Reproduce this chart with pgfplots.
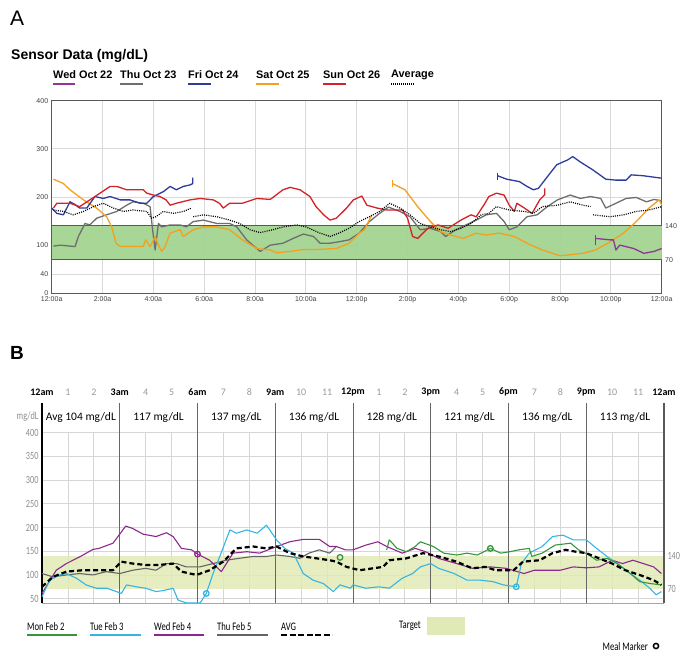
\documentclass[border=0pt]{standalone}
\usepackage{pgfplots}
\pgfplotsset{compat=1.18}
\usepackage{fontspec}
\setmainfont{Liberation Sans}
\newfontfamily\cfont{Carlito}
\newfontfamily\cnfont{Carlito}[FakeStretch=0.75]
\definecolor{tpurple}{RGB}{140,55,150}
\definecolor{tgray}{RGB}{110,110,110}
\definecolor{tblue}{RGB}{45,60,155}
\definecolor{torange}{RGB}{243,160,30}
\definecolor{tred}{RGB}{210,35,40}
\definecolor{tband}{RGB}{163,212,145}
\definecolor{bgreen}{RGB}{55,150,60}
\definecolor{bcyan}{RGB}{55,180,225}
\definecolor{bpurple}{RGB}{140,40,140}
\definecolor{bgray}{RGB}{100,100,100}
\definecolor{bband}{RGB}{224,234,182}
\begin{document}
\begin{tikzpicture}[x=1pt,y=1pt]
\path (0pt,0pt) rectangle (699pt,670pt);
% ---------- panel A titles ----------
\node[anchor=west, font=\fontsize{21}{21}\selectfont, inner sep=0] at (10pt,652pt) {A};
\node[anchor=west, font=\bfseries\fontsize{14}{14}\selectfont, inner sep=0] at (11pt,614pt) {Sensor Data (mg/dL)};
\begin{scope}[font=\bfseries\fontsize{10.9}{11}\selectfont]
\node[anchor=west, inner sep=0] at (53pt,595pt) {Wed Oct 22};
\draw[tpurple, line width=2pt] (53pt,586pt) -- (75pt,586pt);
\node[anchor=west, inner sep=0] at (120pt,595pt) {Thu Oct 23};
\draw[tgray, line width=2pt] (120pt,586pt) -- (143pt,586pt);
\node[anchor=west, inner sep=0] at (188pt,595pt) {Fri Oct 24};
\draw[tblue, line width=2pt] (188pt,586pt) -- (211pt,586pt);
\node[anchor=west, inner sep=0] at (256pt,595pt) {Sat Oct 25};
\draw[torange, line width=2pt] (256pt,586pt) -- (279pt,586pt);
\node[anchor=west, inner sep=0] at (323pt,595pt) {Sun Oct 26};
\draw[tred, line width=2pt] (323pt,586pt) -- (346pt,586pt);
\node[anchor=west, inner sep=0] at (391pt,595pt) {Average};
\draw[black, line width=1.5pt, dash pattern=on 1pt off 1pt] (391pt,586pt) -- (415pt,586pt);
\end{scope}
% ---------- panel A axis ----------
\begin{axis}[at={(51.7pt,376.7pt)}, anchor=south west, scale only axis,
  width=610pt, height=192.6pt, xmin=0, xmax=24, ymin=0, ymax=400,
  xtick={0,2,...,24},
  xticklabels={12:00a,2:00a,4:00a,6:00a,8:00a,10:00a,12:00p,2:00p,4:00p,6:00p,8:00p,10:00p,12:00a},
  ytick={0,40,100,200,300,400},
  grid=major, grid style={draw=black!15, line width=0.8pt},
  axis line style={draw=black!65, line width=0.8pt},
  major tick length=0pt,
  tick label style={font=\fontsize{7}{7}\selectfont, text=black!75},
  /pgf/number format/assume math mode=true,
  clip=false,
  every axis plot/.append style={line width=1.3pt, line join=round}]
\addplot[fill=tband, draw=none, opacity=0.95] coordinates {(0,70)(24,70)(24,140)(0,140)} --cycle;
\addplot[black!65, line width=0.8pt] coordinates {(0,70)(24,70)};
\addplot[black!65, line width=0.8pt] coordinates {(0,140)(24,140)};
% Thu Oct 23 (gray)
\addplot[tgray] coordinates {(0.07,98)(0.33,100)(0.92,97)(1.05,118)(1.31,145)(1.5,142)(1.77,156)(2.16,163)(2.56,170)(2.95,183)(3.2,190)(3.6,187)(3.87,180)(3.97,132)(4.07,90)(4.2,145)(4.33,138)(4.66,142)(5.05,142)(5.3,138)(5.57,149)(5.97,152)(6.5,145)(7.0,145)(7.28,138)(7.67,111)(8.2,87)(8.6,100)(9.1,104)(9.5,114)(9.9,123)(10.3,118)(10.56,104)(10.95,104)(11.3,107)(11.7,111)(12.1,125)(12.5,149)(12.9,166)(13.25,179)(13.7,170)(14.1,159)(14.5,132)(14.9,135)(15.3,128)(15.5,118)(15.9,132)(16.3,142)(16.7,152)(17.1,163)(17.5,166)(17.8,149)(18.0,132)(18.3,138)(18.7,159)(19.1,163)(19.5,180)(19.9,194)(20.4,204)(20.8,197)(21.2,201)(21.6,197)(21.8,177)(22.2,187)(22.6,197)(23.0,199)(23.4,190)(23.7,195)(24,192)};
% Sat Oct 25 (orange)
\addplot[torange] coordinates {(0.07,237)(0.46,228)(0.72,215)(1.25,194)(1.77,177)(2.16,159)(2.36,138)(2.53,104)(2.7,97)(3.08,97)(3.6,97)(3.7,111)(3.87,97)(4.07,118)(4.2,100)(4.33,87)(4.46,97)(4.66,125)(5.05,132)(5.18,118)(5.57,132)(5.97,138)(6.5,138)(7.0,132)(7.5,111)(8.07,93)(8.6,90)(8.85,84)(9.38,87)(9.9,91)(10.4,91)(11.2,93)(11.7,104)(12.1,125)(12.3,132)(12.6,163)};
\addplot[torange] coordinates {(13.4,235)(13.4,221)};
\addplot[torange] coordinates {(13.4,228)(13.9,215)(14.4,180)(14.9,149)(15.3,128)(15.7,121)(16.2,114)(16.7,125)(17.1,121)(17.6,125)(18.2,118)(18.7,104)(19.3,90)(20.0,78)(20.4,80)(20.9,83)(21.4,90)(21.97,107)(22.5,125)(23.0,149)(23.5,177)(23.9,194)(24,183)};
% Fri Oct 24 (blue)
\addplot[tblue] coordinates {(0,177)(0.2,166)(0.46,163)(0.72,190)(0.9,185)(1.1,177)(1.38,177)(1.7,201)(2.03,197)(2.3,201)(2.7,194)(3.08,194)(3.48,187)(3.74,187)(4.0,201)(4.39,211)(4.66,222)(4.9,215)(5.18,222)(5.44,225)(5.55,228)(5.55,240)};
\addplot[tblue] coordinates {(17.55,250)(17.55,236)};
\addplot[tblue] coordinates {(17.55,244)(17.9,237)(18.4,232)(18.7,222)(18.95,215)(19.15,218)(19.5,242)(19.87,267)(20.3,277)(20.5,284)(20.79,273)(21.3,256)(21.8,237)(22.2,235)(22.6,235)(22.8,246)(23.3,244)(24,239)};
% Sun Oct 26 (red)
\addplot[tred] coordinates {(0.07,177)(0.2,187)(0.72,187)(1.1,180)(1.5,194)(1.9,208)(2.3,222)(2.56,222)(2.95,215)(3.6,215)(3.74,208)(4.0,204)(4.26,201)(4.5,194)(4.66,183)(4.9,187)(5.44,194)(5.84,197)(6.36,194)(6.6,187)(6.75,177)(7.0,187)(7.5,187)(8.07,197)(8.6,195)(9.1,215)(9.38,220)(9.77,215)(10.16,201)(10.4,180)(10.7,163)(10.95,152)(11.2,156)(11.6,177)(11.87,194)(12.2,202)(12.4,183)(12.8,177)(13.2,173)(13.8,173)(14.0,156)(14.2,118)(14.4,114)(14.8,135)(15.2,142)(15.6,135)(15.8,142)(16.1,152)(16.5,163)(16.7,159)(17.0,183)(17.2,201)(17.5,208)(17.8,204)(18.0,183)(18.2,170)(18.3,187)(18.6,177)(18.9,166)(19.2,194)(19.4,205)(19.4,218)};
% Wed Oct 22 (purple)
\addplot[tpurple] coordinates {(21.4,121)(21.4,101)};
\addplot[tpurple] coordinates {(21.4,114)(21.97,111)(22.1,111)(22.2,90)(22.35,100)(22.9,93)(23.3,83)(23.7,87)(24,93)};
% Average (dotted)
\addplot[black, line width=1.2pt, dash pattern=on 1pt off 1.2pt] coordinates {(0.07,173)(0.46,170)(0.85,163)(1.25,170)(1.64,180)(2.03,187)(2.43,177)(2.82,170)(3.2,173)(3.74,170)(3.93,156)(4.1,159)(4.39,170)(4.79,166)(5.18,170)(5.5,177)};
\addplot[black, line width=1.2pt, dash pattern=on 1pt off 1.2pt] coordinates {(5.57,159)(5.97,163)(6.5,159)(7.0,152)(7.4,145)(7.8,132)(8.2,126)(8.7,132)(9.1,138)(9.64,142)(10.0,138)(10.56,125)(10.95,118)(11.3,125)(11.7,135)(12.1,149)(12.5,159)(12.9,170)(13.3,187)(13.7,177)(14.1,163)(14.5,145)(14.9,138)(15.3,132)(15.7,128)(16.1,135)(16.5,145)(16.9,163)(17.2,166)(17.5,180)(18.0,173)(18.6,170)(18.95,166)(19.3,180)(19.9,183)(20.4,190)(20.9,183)(21.2,180)};
\addplot[black, line width=1.2pt, dash pattern=on 1pt off 1.2pt] coordinates {(21.3,163)(21.97,159)(22.5,163)(23.0,170)(23.5,173)(24,180)};
\node[anchor=west, font=\fontsize{7}{7}\selectfont, text=black!75] at (axis cs:24,140) {140};
\node[anchor=west, font=\fontsize{7}{7}\selectfont, text=black!75] at (axis cs:24,70) {70};
\end{axis}
% ---------- panel B ----------
\node[anchor=west, font=\bfseries\fontsize{19}{19}\selectfont, inner sep=0] at (10pt,317pt) {B};
\begin{axis}[at={(42pt,66.6pt)}, anchor=south west, scale only axis,
  width=622pt, height=170.7pt, xmin=0, xmax=24, ymin=40, ymax=400,
  clip=false, axis line style={draw=none},
  xtick={0,...,24}, xticklabels={},
  ytick={50,100,...,400}, major tick length=0pt,
  grid=major, grid style={draw=black!16, line width=0.8pt},
  yticklabel style={font=\cnfont\fontsize{11}{11}\selectfont, text=black!45},
  /pgf/number format/assume math mode=true,
  every axis plot/.append style={line width=1.1pt, line join=round}]
\addplot[fill=bband, draw=none, opacity=0.85] coordinates {(0,70)(24,70)(24,140)(0,140)} --cycle;
\draw[black!35, line width=0.8pt] (axis cs:0,40) -- (axis cs:24,40);
\pgfplotsinvokeforeach{3,6,9,12,15,18,21}{\draw[black!60, line width=0.9pt] (axis cs:#1,40) -- (axis cs:#1,462.6);}
\draw[black, line width=1.4pt] (axis cs:0,40) -- (axis cs:0,462.6);
\draw[black!65, line width=1.1pt] (axis cs:24,40) -- (axis cs:24,462.6);
% header hour labels
\begin{scope}[font=\cfont\bfseries\fontsize{10}{10}\selectfont]
\node at (axis cs:0,486) {12am};
\node at (axis cs:3,486) {3am};
\node at (axis cs:6,486) {6am};
\node at (axis cs:9,486) {9am};
\node at (axis cs:12,486) {12pm};
\node at (axis cs:15,486) {3pm};
\node at (axis cs:18,486) {6pm};
\node at (axis cs:21,486) {9pm};
\node at (axis cs:24,486) {12am};
\end{scope}
\begin{scope}[font=\cfont\fontsize{10}{10}\selectfont, text=black!40]
\node at (axis cs:1,486) {1};
\node at (axis cs:2,486) {2};
\node at (axis cs:4,486) {4};
\node at (axis cs:5,486) {5};
\node at (axis cs:7,486) {7};
\node at (axis cs:8,486) {8};
\node at (axis cs:10,486) {10};
\node at (axis cs:11,486) {11};
\node at (axis cs:13,486) {1};
\node at (axis cs:14,486) {2};
\node at (axis cs:16,486) {4};
\node at (axis cs:17,486) {5};
\node at (axis cs:19,486) {7};
\node at (axis cs:20,486) {8};
\node at (axis cs:22,486) {10};
\node at (axis cs:23,486) {11};
\end{scope}
\begin{scope}[font=\cfont\fontsize{11.5}{12}\selectfont]
\node at (axis cs:1.5,433) {Avg 104 mg/dL};
\node at (axis cs:4.5,433) {117 mg/dL};
\node at (axis cs:7.5,433) {137 mg/dL};
\node at (axis cs:10.5,433) {136 mg/dL};
\node at (axis cs:13.5,433) {128 mg/dL};
\node at (axis cs:16.5,433) {121 mg/dL};
\node at (axis cs:19.5,433) {136 mg/dL};
\node at (axis cs:22.5,433) {113 mg/dL};
\end{scope}
\node[anchor=east, font=\cnfont\fontsize{11}{11}\selectfont, text=black!45] at (axis cs:0,433) {mg/dL};
\node[anchor=west, font=\cnfont\fontsize{11}{11}\selectfont, text=black!45] at (axis cs:24,140) {140};
\node[anchor=west, font=\cnfont\fontsize{11}{11}\selectfont, text=black!45] at (axis cs:24,70) {70};
% Thu Feb 5 (gray)
\addplot[bgray] coordinates {(0,103)(0.42,96)(0.94,100)(1.45,103)(1.97,100)(2.48,107)(3.0,103)(3.5,110)(4.0,114)(4.4,110)(4.8,124)(5.19,124)(5.57,117)(6.09,117)(6.6,124)(7.1,131)(7.6,135)(8.15,139)(8.66,139)(9.05,142)(9.56,139)(9.95,135)(10.3,146)(10.7,153)(11.1,146)(11.36,160)};
% Wed Feb 4 (purple)
\addplot[bpurple] coordinates {(0,61)(0.55,110)(0.94,124)(1.45,138)(1.97,154)(2.2,156)(2.74,167)(2.93,181)(3.23,203)(3.5,198)(3.9,186)(4.4,181)(4.8,189)(5.06,181)(5.38,156)(5.77,153)(6.0,144)(6.47,131)(6.92,107)(7.37,146)(7.9,149)(8.4,146)(9.05,160)(9.56,170)(10.08,175)(10.7,175)(11.1,160)(11.36,160)(11.7,153)(12.0,153)(12.5,163)(12.96,170)(13.3,160)(13.9,146)(14.4,156)(14.8,149)(15.3,135)(16.0,124)(16.6,114)(17.3,117)(17.9,114)(18.6,103)(19.0,110)(19.5,110)(20.0,110)(20.5,117)(21.0,115)(21.5,117)(22.0,131)(22.4,124)(22.8,131)(23.2,124)(23.6,117)(23.9,103)};
% Tue Feb 3 (cyan)
\addplot[bcyan] coordinates {(0,54)(0.3,89)(0.68,100)(0.94,103)(1.33,93)(1.7,79)(2.1,72)(2.5,72)(2.87,65)(3.06,61)(3.26,79)(3.64,75)(4.0,72)(4.4,65)(4.67,67)(5.06,72)(5.25,47)(5.57,41)(5.83,41)(6.1,41)(6.34,61)(6.6,103)(6.86,139)(7.25,195)(7.5,188)(7.9,195)(8.3,188)(8.66,205)(9.05,174)(9.37,156)(9.7,146)(10.08,103)(10.46,89)(10.85,82)(11.24,65)(11.5,79)(11.9,72)(12.0,79)(12.5,72)(13.0,75)(13.4,72)(13.9,93)(14.3,103)(14.6,117)(15.0,124)(15.3,114)(15.9,103)(16.4,89)(16.9,89)(17.4,86)(17.8,79)(18.3,75)(18.5,124)(18.8,146)(19.3,160)(19.7,181)(20.1,184)(20.5,174)(21.0,174)(21.4,156)(21.8,139)(22.2,124)(22.7,103)(23.06,89)(23.45,72)(23.7,58)(23.9,65)};
% Mon Feb 2 (green)
\addplot[bgreen] coordinates {(13.3,153)(13.4,174)(13.7,156)(14.06,149)(14.4,160)(14.6,170)(15.1,160)(15.5,146)(16.0,142)(16.4,146)(16.8,142)(17.3,156)(17.7,146)(18.05,149)(18.4,153)(18.8,156)(18.9,139)(19.3,146)(19.8,163)(20.4,167)(20.7,153)(21.1,142)(21.4,131)(21.8,135)(22.2,124)(22.7,103)(23.06,86)(23.45,82)(23.9,79)};
% AVG (dashed)
\addplot[black, line width=2.2pt, dash pattern=on 5pt off 3pt] coordinates {(0,75)(0.42,96)(0.94,107)(1.58,110)(2.2,110)(2.74,110)(3.06,128)(3.5,124)(4.0,121)(4.5,121)(5.06,124)(5.38,107)(5.96,100)(6.47,110)(6.99,128)(7.5,156)(8.15,160)(8.66,156)(9.05,160)(9.56,146)(10.08,139)(10.6,135)(11.1,131)(11.36,128)(11.75,117)(12.26,110)(13.16,117)(13.4,131)(14.06,135)(14.7,146)(15.3,139)(16.0,128)(16.6,114)(17.1,117)(17.5,110)(18.2,110)(18.56,128)(19.2,131)(19.7,146)(20.2,153)(20.6,149)(21.0,146)(21.5,135)(22.0,124)(22.5,110)(23.06,100)(23.6,89)(23.9,79)};
% Meal markers
\addplot[only marks, mark=o, mark size=2.8pt, line width=1.3pt, bpurple, mark options={fill=white}] coordinates {(6.0,144)};
\addplot[only marks, mark=o, mark size=2.8pt, line width=1.3pt, bcyan, mark options={fill=white}] coordinates {(6.34,61)(18.3,75)};
\addplot[only marks, mark=o, mark size=2.8pt, line width=1.3pt, bgreen, mark options={fill=white}] coordinates {(11.5,137)(17.3,156)};
\end{axis}
% ---------- panel B legend ----------
\begin{scope}[font=\cnfont\fontsize{11.5}{12}\selectfont]
\node[anchor=west, inner sep=0] at (27pt,43pt) {Mon Feb 2};
\draw[bgreen, line width=2pt] (27pt,35pt) -- (77pt,35pt);
\node[anchor=west, inner sep=0] at (90pt,43pt) {Tue Feb 3};
\draw[bcyan, line width=2pt] (90pt,35pt) -- (141pt,35pt);
\node[anchor=west, inner sep=0] at (154pt,43pt) {Wed Feb 4};
\draw[bpurple, line width=2pt] (154pt,35pt) -- (204pt,35pt);
\node[anchor=west, inner sep=0] at (217pt,43pt) {Thu Feb 5};
\draw[bgray, line width=2pt] (217pt,35pt) -- (268pt,35pt);
\node[anchor=west, inner sep=0] at (281pt,43pt) {AVG};
\draw[black, line width=2.5pt, dash pattern=on 6pt off 2.5pt] (281pt,35pt) -- (332pt,35pt);
\node[anchor=west, inner sep=0] at (399pt,44pt) {Target};
\fill[bband] (427pt,35pt) rectangle (465pt,53pt);
\node[anchor=east, inner sep=0] at (648pt,23pt) {Meal Marker};
\draw[black, line width=1.5pt, fill=white] (656pt,24pt) circle (2.6pt);
\end{scope}
\end{tikzpicture}
\end{document}
